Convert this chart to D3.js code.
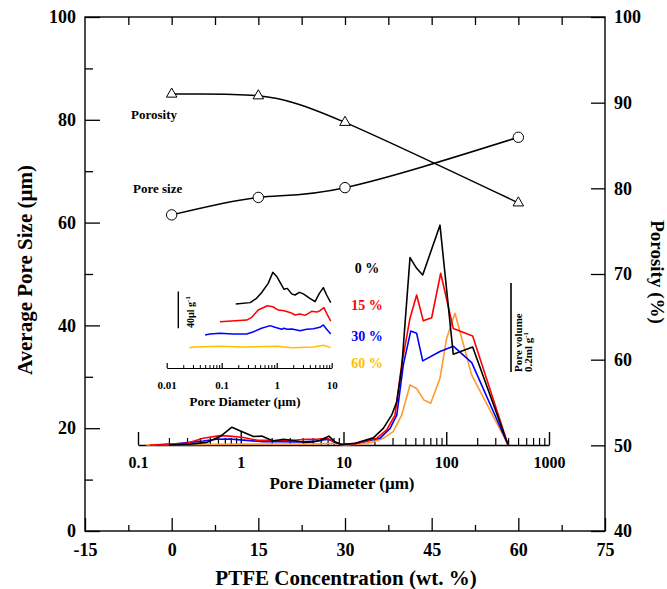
<!DOCTYPE html>
<html>
<head>
<meta charset="utf-8">
<script src="https://cdn.jsdelivr.net/npm/d3@7"></script>
<style>
  body { margin: 0; background: #fff; }
  svg, svg text { font-family: 'Liberation Serif', 'DejaVu Serif', 'Times New Roman', Times, serif; font-weight: bold; }
</style>
</head>
<body>
<svg id="chart" width="667" height="589"></svg>
<script>
//============ DATA ============//
// outer plot: PTFE concentration vs pore size / porosity
const ptfe = [0, 15, 30, 60];
const poreSize = [61.5, 64.9, 66.8, 76.6];      // um, left axis
const porosity = [91.0, 90.8, 87.7, 78.3];      // %, right axis
const ptfeTicks = [-15, 0, 15, 30, 45, 60, 75];
const leftTicks = [0, 20, 40, 60, 80, 100];
const rightTicks = [40, 50, 60, 70, 80, 90, 100];

// pore size distribution [diameter um, pore volume ml/g]
const dist0 = [[0.2,0],[0.32,0.002],[0.47,0.006],[0.63,0.019],[0.82,0.04],[0.98,0.032],[1.33,0.019],[1.6,0.02],[2.07,0.009],[2.6,0.013],[3.24,0.01],[4.06,0.006],[5.08,0.007],[5.9,0.01],[7.2,0.02],[8.26,0.007],[9.6,0.001],[13,0.004],[19.5,0.016],[24.4,0.0375],[29.4,0.067],[33,0.097],[36.8,0.172],[44.4,0.421],[51.5,0.397],[59,0.382],[86.9,0.494],[117,0.204],[180.7,0.22],[400,0]];
const dist15 = [[0.13,0],[0.3,0.004],[0.43,0.015],[0.63,0.021],[0.785,0.02],[1.06,0.017],[1.43,0.011],[2.07,0.01],[3.01,0.01],[4.39,0.013],[5.48,0.013],[6.86,0.015],[8.26,0.007],[9.6,0.001],[13,0.003],[21,0.015],[26.3,0.034],[31.7,0.067],[36.8,0.18],[44.4,0.285],[51.5,0.337],[59.8,0.279],[72.1,0.286],[88.3,0.386],[117,0.262],[180.7,0.245],[400,0]];
const dist30 = [[0.15,0],[0.22,0.002],[0.43,0.009],[0.58,0.013],[0.785,0.0135],[1.06,0.011],[1.66,0.0075],[2.41,0.0075],[3.51,0.0067],[5.48,0.009],[7.1,0.013],[8.26,0.006],[9.6,0.001],[13,0.003],[22.6,0.015],[28.4,0.0375],[33,0.067],[38.2,0.18],[45.1,0.256],[51.5,0.251],[59,0.189],[86.9,0.21],[117,0.222],[177,0.185],[400,0]];
const dist60 = [[0.12,0],[1,0.002],[5,0.002],[8,0.004],[10,0],[15,0.002],[19.5,0.007],[24.4,0.015],[30.5,0.03],[36.8,0.067],[44.4,0.135],[51.5,0.127],[60.7,0.101],[70.6,0.094],[86.9,0.15],[101,0.24],[121.6,0.296],[177,0.157],[400,0]];

// inset: 0.01 - 10 um, each curve relative to its own baseline
const inset0 = [[0.18,0],[0.33,0.0015],[0.43,0.0062],[0.53,0.0123],[0.70,0.0225],[0.85,0.0345],[1.0,0.030],[1.18,0.0225],[1.36,0.016],[1.56,0.017],[1.87,0.011],[2.15,0.0098],[2.58,0.0127],[3.05,0.011],[3.5,0.0087],[4.0,0.0062],[4.98,0.0025],[5.97,0.0116],[7.05,0.0178],[8.1,0.0098],[9.6,0.0015]];
const inset15 = [[0.093,0],[0.285,0.0018],[0.35,0.0047],[0.46,0.0127],[0.68,0.0174],[0.85,0.0163],[1.07,0.0127],[1.36,0.012],[1.8,0.0098],[2.15,0.0073],[2.66,0.0084],[3.27,0.0069],[4.32,0.0113],[5.34,0.0105],[6.1,0.012],[7.26,0.0153],[8.1,0.0091],[9.6,0.0007]];
const inset30 = [[0.05,0],[0.061,0.0011],[0.093,0.0018],[0.16,0.0011],[0.285,0.0011],[0.38,0.0036],[0.53,0.0073],[0.76,0.0102],[0.93,0.0084],[1.23,0.0062],[1.36,0.0073],[1.54,0.0062],[1.9,0.0065],[2.66,0.0047],[3.5,0.0062],[4.64,0.0069],[6.1,0.0084],[7.05,0.0109],[8.1,0.0062],[9.6,0.0011]];
const inset60 = [[0.026,0],[0.03,0.0011],[0.093,0.0018],[0.25,0.0011],[1.0,0.0018],[1.9,0.0004],[4.64,0.0011],[7.05,0.0029],[9.6,0.0004]];

const seriesLabels = ["0 %", "15 %", "30 %", "60 %"];
const poreTicks = [0.1, 1, 10, 100, 1000];
const insetTicks = [0.01, 0.1, 1, 10];

//============ LAYOUT ============//
const FONT = "'Liberation Serif', 'DejaVu Serif', serif";
const colors = ["#000000", "#ff0000", "#0000ff", "#ff9a30"];
const insetColors = ["#000000", "#ff0000", "#0000ff", "#ffc000"];
const labelColors = ["#000000", "#ff0000", "#0000ff", "#ffc000"];
const M = { left: 85, right: 605, top: 17, bottom: 531 };

const svg = d3.select("#chart").attr("font-family", FONT).attr("font-weight", "bold");

const x = d3.scaleLinear([-15, 75], [M.left, M.right]);
const yL = d3.scaleLinear([0, 100], [M.bottom, M.top]);
const yR = d3.scaleLinear([40, 100], [M.bottom, M.top]);

// embedded pore-size-distribution plot
const xP = d3.scaleLog([0.1, 1000], [138, 549]);
const yP = d3.scaleLinear([0, 0.2], [445, 356]);
// small inset
const xI = d3.scaleLog([0.01, 10], [166.7, 331.7]);
const yI = d3.scaleLinear([0, 0.04], [0, -36.7]);
const insetBase = [304, 321.7, 335, 348];

function minorLog(lo, hi) {
  let out = [];
  for (let dec = lo; dec < hi; dec *= 10)
    for (let k = 2; k <= 9; k++) out.push(dec * k);
  return out;
}

function tidy(g, size, lw) {
  g.attr("font-family", FONT).attr("font-size", size).attr("font-weight", "bold");
  g.selectAll(".tick line").attr("stroke", "#000").attr("stroke-width", lw);
  g.selectAll(".domain").attr("stroke", "#000").attr("stroke-width", lw);
}

//============ OUTER AXES ============//
svg.append("rect")
  .attr("x", M.left).attr("y", M.top)
  .attr("width", M.right - M.left).attr("height", M.bottom - M.top)
  .attr("fill", "none").attr("stroke", "#000").attr("stroke-width", 1.4);

svg.append("g").attr("transform", `translate(0,${M.bottom})`)
  .call(d3.axisBottom(x).tickValues(ptfeTicks).tickSize(-13).tickPadding(12).tickFormat(d => String(d)))
  .call(g => g.select(".domain").remove())
  .call(g => tidy(g, 18, 1.3));
svg.append("g").attr("transform", `translate(0,${M.bottom})`)
  .call(d3.axisBottom(x).tickValues(d3.range(-7.5, 75, 15)).tickSize(-6).tickFormat(""))
  .call(g => g.select(".domain").remove())
  .call(g => tidy(g, 18, 1.3));
svg.append("g").attr("transform", `translate(0,${M.top})`)
  .call(d3.axisTop(x).tickValues(d3.range(-7.5, 75, 7.5)).tickSize(-8).tickFormat(""))
  .call(g => g.select(".domain").remove())
  .call(g => tidy(g, 18, 1.3));

svg.append("g").attr("transform", `translate(${M.left},0)`)
  .call(d3.axisLeft(yL).tickValues(leftTicks).tickSize(-15).tickPadding(9))
  .call(g => g.select(".domain").remove())
  .call(g => tidy(g, 18, 1.3));
svg.append("g").attr("transform", `translate(${M.left},0)`)
  .call(d3.axisLeft(yL).tickValues(d3.range(10, 100, 20)).tickSize(-8).tickFormat(""))
  .call(g => g.select(".domain").remove())
  .call(g => tidy(g, 18, 1.3));
svg.append("g").attr("transform", `translate(${M.right},0)`)
  .call(d3.axisRight(yR).tickValues(rightTicks).tickSize(-14).tickPadding(9))
  .call(g => g.select(".domain").remove())
  .call(g => tidy(g, 18, 1.3));

svg.append("text")
  .attr("transform", `translate(32,270) rotate(-90)`)
  .attr("text-anchor", "middle").attr("font-size", 21)
  .text("Average Pore Size (\u00b5m)");
svg.append("text")
  .attr("transform", `translate(651,272) rotate(90)`)
  .attr("text-anchor", "middle").attr("font-size", 19)
  .text("Porosity (%)");
svg.append("text")
  .attr("x", 346).attr("y", 585)
  .attr("text-anchor", "middle").attr("font-size", 21)
  .text("PTFE Concentration (wt. %)");

//============ POROSITY / PORE SIZE ============//
const poroData = ptfe.map((c, i) => ({ c, v: porosity[i] }));
const sizeData = ptfe.map((c, i) => ({ c, v: poreSize[i] }));

svg.append("path").datum(poroData)
  .attr("d", d3.line().x(d => x(d.c)).y(d => yR(d.v)).curve(d3.curveNatural))
  .attr("fill", "none").attr("stroke", "#000").attr("stroke-width", 1.5);
svg.append("path").datum(sizeData)
  .attr("d", d3.line().x(d => x(d.c)).y(d => yL(d.v)).curve(d3.curveNatural))
  .attr("fill", "none").attr("stroke", "#000").attr("stroke-width", 1.5);

svg.selectAll(".tri").data(poroData).join("path")
  .attr("class", "tri")
  .attr("transform", d => `translate(${x(d.c)},${yR(d.v)})`)
  .attr("d", d3.symbol(d3.symbolTriangle).size(48))
  .attr("fill", "#fff").attr("stroke", "#000").attr("stroke-width", 1);
svg.selectAll(".circ").data(sizeData).join("circle")
  .attr("class", "circ")
  .attr("cx", d => x(d.c)).attr("cy", d => yL(d.v)).attr("r", 5.2)
  .attr("fill", "#fff").attr("stroke", "#000").attr("stroke-width", 1);

svg.append("text").attr("x", 131).attr("y", 119).attr("font-size", 13).text("Porosity");
svg.append("text").attr("x", 133).attr("y", 193).attr("font-size", 13).text("Pore size");

//============ PORE DIAMETER DISTRIBUTION ============//
svg.append("g").attr("transform", "translate(0,445)")
  .call(d3.axisBottom(xP).tickValues(poreTicks).tickSize(-13).tickSizeOuter(0).tickPadding(12).tickFormat(d => String(d)))
  .call(g => tidy(g, 16, 1.4));
svg.append("g").attr("transform", "translate(0,445)")
  .call(d3.axisBottom(xP).tickValues(minorLog(0.1, 1000)).tickSize(-7).tickFormat(""))
  .call(g => g.select(".domain").remove())
  .call(g => tidy(g, 16, 1.2));
svg.append("text").attr("x", 342).attr("y", 489)
  .attr("text-anchor", "middle").attr("font-size", 17)
  .text("Pore Diameter (\u00b5m)");

const distLine = d3.line().x(d => xP(d[0])).y(d => yP(d[1]));
[dist60, dist30, dist15, dist0].forEach((s, k) => {
  svg.append("path").datum(s)
    .attr("d", distLine)
    .attr("fill", "none").attr("stroke", colors[3 - k]).attr("stroke-width", 1.6)
    .attr("stroke-linejoin", "round");
});

// scale bar
svg.append("line")
  .attr("x1", 511).attr("x2", 511)
  .attr("y1", 372).attr("y2", 372 - (yP(0) - yP(0.2)))
  .attr("stroke", "#000").attr("stroke-width", 1.6);
const pv = svg.append("text").attr("transform", "translate(522,372) rotate(-90)").attr("font-size", 11);
pv.text("Pore volume");
const pv2 = svg.append("text").attr("transform", "translate(532,372) rotate(-90)").attr("font-size", 11);
pv2.text("0.2ml g");
pv2.append("tspan").attr("dy", -4).attr("font-size", 7).text("-1");

seriesLabels.forEach((t, k) => {
  svg.append("text")
    .attr("x", 367).attr("y", [273, 310, 341, 368][k])
    .attr("text-anchor", "middle").attr("font-size", 14)
    .attr("fill", labelColors[k])
    .text(t);
});

//============ SMALL INSET ============//
svg.append("g").attr("transform", "translate(0,368)")
  .call(d3.axisBottom(xI).tickValues(insetTicks).tickSize(-5).tickSizeOuter(0).tickPadding(13).tickFormat(d => String(d)))
  .call(g => tidy(g, 11, 1.2));
svg.append("g").attr("transform", "translate(0,368)")
  .call(d3.axisBottom(xI).tickValues(minorLog(0.01, 10)).tickSize(-3).tickFormat(""))
  .call(g => g.select(".domain").remove())
  .call(g => tidy(g, 11, 1));
svg.append("text").attr("x", 245).attr("y", 406)
  .attr("text-anchor", "middle").attr("font-size", 13)
  .text("Pore Diameter (\u00b5m)");

const insetLine = d3.line().x(d => xI(d[0])).y(d => yI(d[1]));
[inset0, inset15, inset30, inset60].forEach((s, k) => {
  svg.append("path").datum(s)
    .attr("transform", `translate(0,${insetBase[k]})`)
    .attr("d", insetLine)
    .attr("fill", "none").attr("stroke", insetColors[k]).attr("stroke-width", 1.5)
    .attr("stroke-linejoin", "round");
});

svg.append("line")
  .attr("x1", 178.3).attr("x2", 178.3)
  .attr("y1", 328.3).attr("y2", 328.3 + yI(0.04))
  .attr("stroke", "#000").attr("stroke-width", 1.4);
const sb = svg.append("text").attr("transform", "translate(194,328) rotate(-90)").attr("font-size", 10);
sb.text("40\u00b5l g");
sb.append("tspan").attr("dy", -4).attr("font-size", 7).text("-1");
</script>
</body>
</html>
